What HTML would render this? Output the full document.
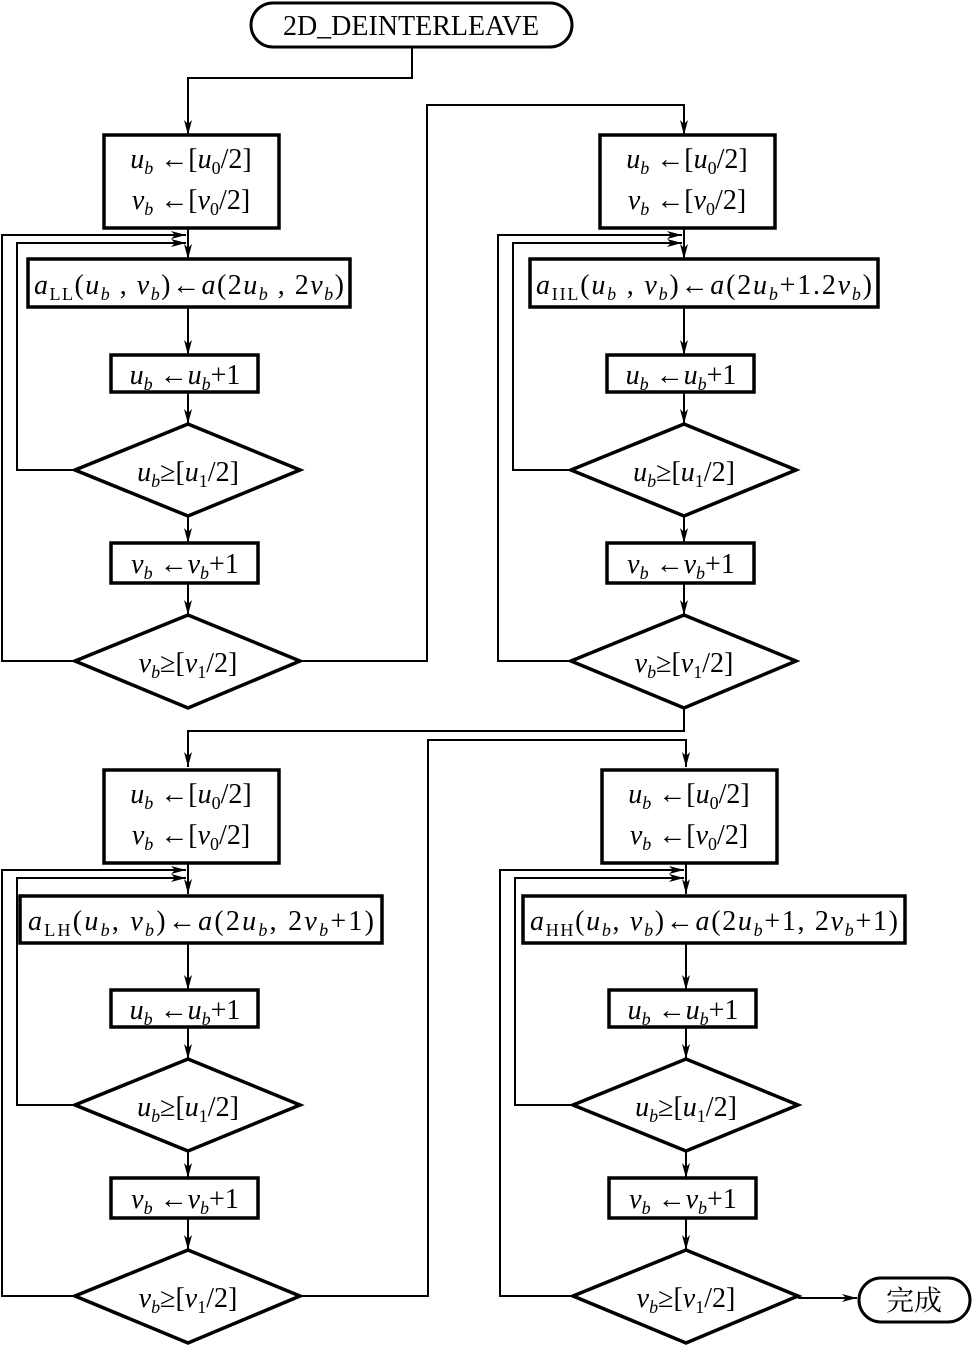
<!DOCTYPE html>
<html><head><meta charset="utf-8"><style>
html,body{margin:0;padding:0;background:#fff}
svg{display:block}
text{font-family:"Liberation Serif","Noto Serif CJK SC",serif;font-size:28px;fill:#000}
.i{font-style:italic}
.s{font-size:18px;font-style:normal}
.si{font-size:18px;font-style:italic}
.b{fill:none;stroke:#000;stroke-width:3.5}
.l{fill:none;stroke:#000;stroke-width:2}
</style></head><body>
<svg width="973" height="1351" viewBox="0 0 973 1351" xmlns="http://www.w3.org/2000/svg">
<defs>
<marker id="a" markerUnits="userSpaceOnUse" markerWidth="16" markerHeight="10" refX="15" refY="4" orient="auto">
<path d="M0,0 L15,4 L0,8 L4,4 z" fill="#000"/></marker>
<g id="common">
<rect class="b" x="104" y="135" width="175" height="93"/>
<text x="191" y="168" text-anchor="middle"><tspan class="i">u</tspan><tspan class="si" dy="6">b</tspan><tspan dy="-6"> ←[</tspan><tspan class="i">u</tspan><tspan class="s" dy="6">0</tspan><tspan dy="-6">/2]</tspan></text>
<text x="191" y="209" text-anchor="middle"><tspan class="i">v</tspan><tspan class="si" dy="6">b</tspan><tspan dy="-6"> ←[</tspan><tspan class="i">v</tspan><tspan class="s" dy="6">0</tspan><tspan dy="-6">/2]</tspan></text>
<rect class="b" x="111" y="355" width="147" height="37"/>
<text x="185" y="384" text-anchor="middle"><tspan class="i">u</tspan><tspan class="si" dy="6">b</tspan><tspan dy="-6"> ←</tspan><tspan class="i">u</tspan><tspan class="si" dy="6">b</tspan><tspan dy="-6">+1</tspan></text>
<polygon class="b" points="75,470 188,424 300,470 188,516"/>
<text x="188" y="481" text-anchor="middle"><tspan class="i">u</tspan><tspan class="si" dy="6">b</tspan><tspan dy="-6">≥[</tspan><tspan class="i">u</tspan><tspan class="s" dy="6">1</tspan><tspan dy="-6">/2]</tspan></text>
<rect class="b" x="111" y="543" width="147" height="40"/>
<text x="185" y="573" text-anchor="middle"><tspan class="i">v</tspan><tspan class="si" dy="6">b</tspan><tspan dy="-6"> ←</tspan><tspan class="i">v</tspan><tspan class="si" dy="6">b</tspan><tspan dy="-6">+1</tspan></text>
<polygon class="b" points="75,661 188,615 300,661 188,708"/>
<text x="188" y="672" text-anchor="middle"><tspan class="i">v</tspan><tspan class="si" dy="6">b</tspan><tspan dy="-6">≥[</tspan><tspan class="i">v</tspan><tspan class="s" dy="6">1</tspan><tspan dy="-6">/2]</tspan></text>
<path class="l" d="M188,229 V259" marker-end="url(#a)"/>
<path class="l" d="M188,307 V355" marker-end="url(#a)"/>
<path class="l" d="M188,392 V424" marker-end="url(#a)"/>
<path class="l" d="M188,516 V543" marker-end="url(#a)"/>
<path class="l" d="M188,583 V615" marker-end="url(#a)"/>
<path class="l" d="M75,661 H2 V235 H186" marker-end="url(#a)"/>
<path class="l" d="M75,470 H17 V243 H186" marker-end="url(#a)"/>
</g>
</defs>

<rect x="251" y="3" width="321" height="44" rx="22" class="b" style="stroke-width:3"/>
<text x="411" y="35" text-anchor="middle" font-size="26">2D_DEINTERLEAVE</text>
<path class="l" d="M412,47 V78 H188 V135" marker-end="url(#a)"/>

<!-- panel 1 -->
<use href="#common"/>
<rect class="b" x="28" y="259" width="322" height="48"/>
<text x="189" y="294" text-anchor="middle" textLength="310"><tspan class="i">a</tspan><tspan class="s" dy="6">LL</tspan><tspan dy="-6">(</tspan><tspan class="i">u</tspan><tspan class="si" dy="6">b</tspan><tspan dy="-6"> , </tspan><tspan class="i">v</tspan><tspan class="si" dy="6">b</tspan><tspan dy="-6">)←</tspan><tspan class="i">a</tspan><tspan>(2</tspan><tspan class="i">u</tspan><tspan class="si" dy="6">b</tspan><tspan dy="-6"> , 2</tspan><tspan class="i">v</tspan><tspan class="si" dy="6">b</tspan><tspan dy="-6">)</tspan></text>
<path class="l" d="M300,661 H427 V105 H684 V135" marker-end="url(#a)"/>

<!-- panel 2 -->
<g transform="translate(496,0)"><use href="#common"/></g>
<rect class="b" x="530" y="259" width="348" height="48"/>
<text x="704" y="294" text-anchor="middle" textLength="336"><tspan class="i">a</tspan><tspan class="s" dy="6">IIL</tspan><tspan dy="-6">(</tspan><tspan class="i">u</tspan><tspan class="si" dy="6">b</tspan><tspan dy="-6"> , </tspan><tspan class="i">v</tspan><tspan class="si" dy="6">b</tspan><tspan dy="-6">)←</tspan><tspan class="i">a</tspan><tspan>(2</tspan><tspan class="i">u</tspan><tspan class="si" dy="6">b</tspan><tspan dy="-6">+1.2</tspan><tspan class="i">v</tspan><tspan class="si" dy="6">b</tspan><tspan dy="-6">)</tspan></text>
<path class="l" d="M684,708 V731 H188 V767" marker-end="url(#a)"/>

<!-- panel 3 -->
<g transform="translate(0,635)"><use href="#common"/></g>
<rect class="b" x="20" y="896" width="362" height="47"/>
<text x="201" y="930" text-anchor="middle" textLength="346"><tspan class="i">a</tspan><tspan class="s" dy="6">LH</tspan><tspan dy="-6">(</tspan><tspan class="i">u</tspan><tspan class="si" dy="6">b</tspan><tspan dy="-6">, </tspan><tspan class="i">v</tspan><tspan class="si" dy="6">b</tspan><tspan dy="-6">)←</tspan><tspan class="i">a</tspan><tspan>(2</tspan><tspan class="i">u</tspan><tspan class="si" dy="6">b</tspan><tspan dy="-6">, 2</tspan><tspan class="i">v</tspan><tspan class="si" dy="6">b</tspan><tspan dy="-6">+1)</tspan></text>
<path class="l" d="M300,1296 H428 V740 H686 V767" marker-end="url(#a)"/>

<!-- panel 4 -->
<g transform="translate(498,635)"><use href="#common"/></g>
<rect class="b" x="523" y="896" width="382" height="47"/>
<text x="714" y="930" text-anchor="middle" textLength="368"><tspan class="i">a</tspan><tspan class="s" dy="6">HH</tspan><tspan dy="-6">(</tspan><tspan class="i">u</tspan><tspan class="si" dy="6">b</tspan><tspan dy="-6">, </tspan><tspan class="i">v</tspan><tspan class="si" dy="6">b</tspan><tspan dy="-6">)←</tspan><tspan class="i">a</tspan><tspan>(2</tspan><tspan class="i">u</tspan><tspan class="si" dy="6">b</tspan><tspan dy="-6">+1, 2</tspan><tspan class="i">v</tspan><tspan class="si" dy="6">b</tspan><tspan dy="-6">+1)</tspan></text>
<path class="l" d="M798,1298 H857" marker-end="url(#a)"/>
<rect x="859" y="1278" width="111" height="44" rx="22" class="b" style="stroke-width:3"/>
<text x="914" y="1310" text-anchor="middle" style="font-family:'Noto Serif CJK SC','Noto Sans CJK SC',serif" font-size="26">完成</text>
</svg>
</body></html>
